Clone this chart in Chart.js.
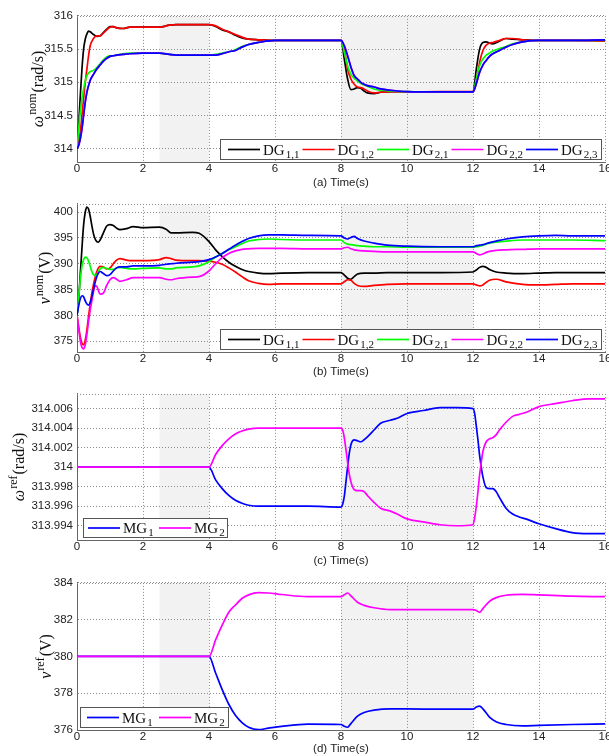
<!DOCTYPE html>
<html>
<head>
<meta charset="utf-8">
<script src="https://cdn.jsdelivr.net/npm/chart.js@4.4.0/dist/chart.umd.min.js"></script>
<style>
  html, body { margin: 0; padding: 0; background: #fff; overflow: hidden; }
  #page { position: relative; width: 609px; height: 756px; overflow: hidden; }
  #page canvas { position: absolute; left: 0; }
</style>
</head>
<body>
<div id="page">
  <canvas id="chartA"></canvas>
  <canvas id="chartB"></canvas>
  <canvas id="chartC"></canvas>
  <canvas id="chartD"></canvas>
</div>
<script>
// ---- DATA ----
const xTicks = [0, 2, 4, 6, 8, 10, 12, 14, 16];
const shadeBands = [[2.5, 4], [8, 12]];

// (a) nominal frequency
const timeA = [0, 0.05, 0.1, 0.15, 0.2, 0.25, 0.3, 0.35, 0.4, 0.5,
  0.6, 0.7, 0.8, 0.9, 1.0, 1.1, 1.2, 1.4, 1.6, 2.0,
  2.5, 2.8, 3.0, 3.5, 4.0, 4.2, 4.4, 4.6, 4.8, 5.0,
  5.2, 5.5, 6.0, 7.0, 8.0, 8.1, 8.2, 8.3, 8.4, 8.5,
  8.6, 8.7, 8.8, 9.0, 9.2, 9.5, 10, 11, 12.0, 12.1,
  12.2, 12.3, 12.4, 12.5, 12.6, 12.8, 13.0, 13.2, 13.5, 14,
  15, 16];
const wNomDG11 = [314.0, 314.35, 314.8, 315.2, 315.5, 315.65, 315.73, 315.77, 315.76, 315.72,
  315.69, 315.7, 315.75, 315.8, 315.84, 315.84, 315.82, 315.81, 315.83, 315.83,
  315.83, 315.86, 315.87, 315.87, 315.87, 315.84, 315.79, 315.76, 315.71, 315.67,
  315.65, 315.64, 315.63, 315.63, 315.63, 315.35, 315.05, 314.89, 314.9, 314.92,
  314.91, 314.87, 314.84, 314.83, 314.85, 314.86, 314.855, 314.855, 314.855, 315.2,
  315.5, 315.6, 315.61, 315.59, 315.58, 315.62, 315.66, 315.65, 315.64, 315.63,
  315.63, 315.63];
const wNomDG12 = [314.0, 314.1, 314.25, 314.5, 314.75, 315.0, 315.2, 315.4, 315.55, 315.66,
  315.7, 315.7, 315.74, 315.79, 315.83, 315.84, 315.82, 315.81, 315.83, 315.83,
  315.83, 315.86, 315.87, 315.87, 315.87, 315.85, 315.8, 315.76, 315.72, 315.68,
  315.65, 315.64, 315.63, 315.63, 315.63, 315.5, 315.2, 315.05, 314.97, 314.93,
  314.92, 314.9, 314.87, 314.84, 314.85, 314.86, 314.855, 314.86, 314.86, 315.0,
  315.3, 315.48, 315.56, 315.59, 315.6, 315.63, 315.66, 315.66, 315.64, 315.63,
  315.63, 315.62];
const wNomDG21 = [314.0, 314.3, 314.55, 314.75, 314.9, 315.02, 315.1, 315.14, 315.16, 315.18,
  315.22, 315.28, 315.34, 315.38, 315.4, 315.4, 315.41, 315.43, 315.44, 315.44,
  315.44, 315.42, 315.41, 315.41, 315.41, 315.42, 315.44, 315.46, 315.49, 315.54,
  315.57, 315.6, 315.63, 315.63, 315.63, 315.45, 315.25, 315.12, 315.06, 315.02,
  314.98, 314.96, 314.94, 314.9, 314.88, 314.87, 314.86, 314.855, 314.855, 315.05,
  315.25, 315.35, 315.41, 315.44, 315.47, 315.51, 315.54, 315.58, 315.61, 315.63,
  315.63, 315.63];
const wNomDG22 = [314.0, 314.05, 314.15, 314.3, 314.5, 314.7, 314.85, 314.95, 315.03, 315.12,
  315.2, 315.26, 315.32, 315.36, 315.39, 315.4, 315.41, 315.42, 315.43, 315.44,
  315.44, 315.42, 315.41, 315.41, 315.41, 315.41, 315.43, 315.46, 315.48, 315.53,
  315.57, 315.6, 315.63, 315.63, 315.63, 315.55, 315.4, 315.23, 315.1, 315.05,
  315.0, 314.97, 314.95, 314.93, 314.9, 314.88, 314.86, 314.855, 314.855, 314.98,
  315.15, 315.26, 315.33, 315.39, 315.43, 315.48, 315.53, 315.57, 315.61, 315.63,
  315.63, 315.64];
const wNomDG23 = [314.0, 314.05, 314.15, 314.3, 314.5, 314.7, 314.85, 314.95, 315.03, 315.12,
  315.2, 315.26, 315.32, 315.36, 315.39, 315.4, 315.41, 315.42, 315.43, 315.44,
  315.44, 315.42, 315.41, 315.41, 315.41, 315.41, 315.43, 315.46, 315.48, 315.53,
  315.57, 315.6, 315.63, 315.63, 315.63, 315.55, 315.4, 315.23, 315.1, 315.05,
  315.0, 314.97, 314.95, 314.93, 314.9, 314.88, 314.86, 314.855, 314.855, 314.98,
  315.15, 315.26, 315.33, 315.39, 315.43, 315.48, 315.53, 315.57, 315.61, 315.63,
  315.63, 315.64];
const yTicksA = [314, 314.5, 315, 315.5, 316];

// (b) nominal voltage
const timeB = [0, 0.05, 0.1, 0.15, 0.2, 0.25, 0.3, 0.35, 0.4, 0.45,
  0.5, 0.55, 0.6, 0.65, 0.7, 0.8, 0.9, 1.0, 1.1, 1.2,
  1.3, 1.5, 1.7, 2.0, 2.5, 2.7, 2.85, 3.0, 3.5, 3.7,
  4.0, 4.2, 4.4, 4.6, 4.8, 5.0, 5.2, 5.5, 5.8, 6.2,
  7, 8.0, 8.1, 8.2, 8.3, 8.4, 8.5, 8.7, 9.0, 9.4,
  10, 11, 12.0, 12.1, 12.2, 12.3, 12.4, 12.5, 12.7, 13.0,
  13.5, 14, 14.5, 15, 16];
const vNomDG11 = [380, 383, 388, 393, 397.5, 400, 401, 400.6, 399.2, 397.4,
  395.8, 394.8, 394.3, 394.2, 394.6, 396, 397.3, 397.6, 397.4, 396.9,
  396.6, 396.8, 397.2, 397.0, 397.1, 396.7, 396.0, 396.0, 396.1, 395.9,
  394.3, 392.7, 391.4, 390.3, 389.5, 388.9, 388.5, 388.2, 388.1, 388.2,
  388.3, 388.3, 387.8, 387.2, 387.0, 387.5, 388.0, 388.2, 388.2, 388.3,
  388.3, 388.3, 388.4, 388.8, 389.3, 389.5, 389.3, 388.9, 388.4, 388.2,
  388.1, 388.2, 388.3, 388.3, 388.3];
const vNomDG12 = [380, 377.8, 375.8, 374.6, 374.3, 375.2, 377.2, 379.8, 382.2, 384.3,
  386.0, 387.4, 388.5, 389.2, 389.5, 389.4, 389.0, 389.2, 390.0, 390.7,
  391.0, 390.7, 390.6, 390.6, 390.8, 391.2, 391.0, 390.7, 390.6, 390.6,
  390.5, 390.3, 389.9, 389.2, 388.4, 387.5, 386.7, 386.2, 386.0, 386.1,
  386.1, 386.1, 386.5, 386.9, 386.8, 386.2, 385.8, 385.6, 385.8, 386.0,
  386.1, 386.1, 386.1, 385.9, 385.7, 385.9, 386.4, 386.8, 387.0, 386.5,
  386.0, 385.9, 386.0, 386.1, 386.1];
const vNomDG21 = [380, 383.5, 387.0, 389.5, 390.8, 391.3, 391.2, 390.5, 389.5, 388.5,
  387.9, 387.7, 387.9, 388.5, 389.0, 389.3, 389.1, 388.9, 388.9, 389.2,
  389.3, 389.1, 389.0, 389.1, 389.2, 389.0, 389.0, 389.2, 389.4, 389.6,
  390.4, 391.3, 392.0, 392.7, 393.3, 393.9, 394.4, 394.7, 394.8, 394.7,
  394.6, 394.6, 394.1, 393.8, 393.7, 393.6, 393.5, 393.4, 393.3, 393.3,
  393.2, 393.2, 393.2, 393.3, 393.4, 393.6, 393.8, 394.0, 394.2, 394.4,
  394.6, 394.6, 394.6, 394.6, 394.5];
const vNomDG22 = [380, 377.5, 375.0, 373.8, 373.5, 374.3, 376.3, 378.8, 381.0, 382.8,
  384.6, 385.7, 385.6, 384.8, 384.1, 384.3, 385.8, 386.9, 387.3, 387.0,
  386.6, 386.9, 387.3, 387.3, 387.3, 387.0, 386.9, 387.1, 387.4, 387.5,
  388.6, 390.0, 391.2, 392.0, 392.5, 392.8, 392.9, 393.0, 393.0, 393.0,
  392.9, 392.9, 393.1, 393.2, 392.9, 392.7, 392.6, 392.5, 392.4, 392.3,
  392.3, 392.3, 392.3, 392.0, 391.7, 391.9, 392.2, 392.4, 392.6, 392.7,
  392.8, 392.9, 392.9, 392.9, 392.9];
const vNomDG23 = [380, 381.8, 383.2, 383.8, 383.6, 382.8, 382.2, 382.0, 382.5, 383.6,
  385.0, 386.4, 387.5, 388.2, 388.5, 388.1, 387.7, 387.9, 388.6, 389.2,
  389.4, 389.4, 389.6, 389.6, 389.7, 389.9, 390.0, 390.1, 390.3, 390.4,
  390.8, 391.3, 392.0, 392.8, 393.6, 394.3, 394.9, 395.4, 395.6, 395.6,
  395.5, 395.4, 395.0, 394.8, 395.1, 395.3, 394.9, 394.4, 394.0, 393.6,
  393.4, 393.3, 393.3, 393.5, 393.6, 393.7, 393.9, 394.1, 394.4, 394.8,
  395.2, 395.4, 395.5, 395.4, 395.4];
const yTicksB = [375, 380, 385, 390, 395, 400];

// (c) reference frequency
const timeC = [0, 4.0, 4.2, 4.4, 4.6, 4.8, 5.0, 5.2, 5.5, 6,
  7, 8.0, 8.05, 8.1, 8.15, 8.2, 8.25, 8.3, 8.4, 8.5,
  8.6, 8.7, 8.8, 9.0, 9.2, 9.5, 9.7, 10, 10.5, 11,
  11.5, 12.0, 12.05, 12.1, 12.15, 12.2, 12.25, 12.3, 12.4, 12.5,
  12.6, 12.7, 12.8, 13.0, 13.2, 13.4, 13.6, 14.0, 14.5, 15,
  15.5, 16];
const wRefMG1 = [314.0, 314.0, 313.9987, 313.9978, 313.9971, 313.9966, 313.9963, 313.9961, 313.996, 313.996,
  313.996, 313.9959, 313.9962, 313.997, 313.9985, 314.0, 314.0014, 314.0023, 314.0028, 314.0027,
  314.0026, 314.0028, 314.0031, 314.0038, 314.0045, 314.0048, 314.005, 314.0055, 314.0058, 314.0061,
  314.0061, 314.006, 314.0055, 314.0042, 314.0028, 314.0012, 314.0, 313.999, 313.9979, 313.9978,
  313.9978, 313.9975, 313.9969, 313.9958, 313.9952, 313.9949, 313.9947, 313.9942, 313.9937, 313.9933,
  313.9932, 313.9932];
const wRefMG2 = [314.0, 314.0, 314.0013, 314.0022, 314.0029, 314.0034, 314.0037, 314.0039, 314.004, 314.004,
  314.004, 314.004, 314.0038, 314.003, 314.0018, 314.0005, 313.9993, 313.9985, 313.9977, 313.9976,
  313.9976, 313.9975, 313.9971, 313.9964, 313.9958, 313.9955, 313.9952, 313.9947, 313.9944, 313.9941,
  313.994, 313.9941, 313.9948, 313.996, 313.9975, 313.9992, 314.0005, 314.0016, 314.0026, 314.0029,
  314.003, 314.0033, 314.0038, 314.0046, 314.0052, 314.0054, 314.0056, 314.0062, 314.0065, 314.0068,
  314.007, 314.007];
const yTicksC = [313.994, 313.996, 313.998, 314, 314.002, 314.004, 314.006];

// (d) reference voltage
const timeD = [0, 4.0, 4.2, 4.4, 4.6, 4.8, 5.0, 5.2, 5.5, 5.8,
  6.2, 7, 8.0, 8.1, 8.2, 8.3, 8.5, 8.7, 9.0, 9.5,
  10, 11, 12.0, 12.1, 12.2, 12.3, 12.5, 12.7, 13.0, 13.5,
  14, 15, 16];
const vRefMG1 = [380, 380, 379.1, 378.2, 377.4, 376.8, 376.4, 376.15, 376.02, 376.1,
  376.2, 376.32, 376.3, 376.2, 376.15, 376.35, 376.75, 376.95, 377.08, 377.15,
  377.15, 377.13, 377.13, 377.25, 377.3, 377.15, 376.7, 376.45, 376.3, 376.22,
  376.25, 376.3, 376.33];
const vRefMG2 = [380, 380, 380.9, 381.7, 382.4, 382.8, 383.15, 383.35, 383.47, 383.45,
  383.37, 383.25, 383.25, 383.35, 383.45, 383.3, 382.95, 382.78, 382.65, 382.55,
  382.55, 382.55, 382.55, 382.5, 382.4, 382.6, 383.0, 383.2, 383.33, 383.38,
  383.35, 383.28, 383.25];
const yTicksD = [376, 378, 380, 382, 384];

// ---- STYLE ----
const tickFont = { family: '"Liberation Sans", Arial, sans-serif', size: 11.5 };
const serif = '"Liberation Serif", "Times New Roman", serif';
const gridColor = '#8c8c8c';

// shaded time windows
const shadePlugin = {
    id: 'shadeBands',
    beforeDraw(chart) {
        const { ctx, chartArea: a, scales: { x } } = chart;
        ctx.save();
        ctx.fillStyle = '#f2f2f2';
        shadeBands.forEach(([s, e]) => {
            const x1 = x.getPixelForValue(s);
            const x2 = x.getPixelForValue(e);
            ctx.fillRect(x1, a.top, x2 - x1, a.bottom - a.top);
        });
        ctx.restore();
    },
    // dotted top edge of the axes box
    beforeDatasetsDraw(chart) {
        const { ctx, chartArea: a } = chart;
        ctx.save();
        ctx.strokeStyle = gridColor;
        ctx.lineWidth = 1;
        ctx.setLineDash([1, 2]);
        ctx.beginPath();
        ctx.moveTo(a.left, Math.round(a.top) + 0.5);
        ctx.lineTo(a.right, Math.round(a.top) + 0.5);
        ctx.stroke();
        ctx.restore();
    }
};

// rotated y title with a superscript
const yTitlePlugin = {
    id: 'yTitleSup',
    afterDraw(chart, args, opts) {
        const { ctx, chartArea: a } = chart;
        const big = '16px ' + serif, bigIt = 'italic 16px ' + serif, small = '12px ' + serif;
        ctx.save();
        ctx.translate(opts.x, (a.top + a.bottom) / 2);
        ctx.rotate(-Math.PI / 2);
        ctx.font = bigIt; const wb = ctx.measureText(opts.base).width;
        ctx.font = small; const ws = ctx.measureText(opts.sup).width;
        ctx.font = big; const wr = ctx.measureText(opts.rest).width;
        let u = -(wb + ws + wr + 2) / 2;
        ctx.fillStyle = '#111';
        ctx.font = bigIt; ctx.fillText(opts.base, u, 5); u += wb + 1;
        ctx.font = small; ctx.fillText(opts.sup, u, -2); u += ws + 1;
        ctx.font = big; ctx.fillText(opts.rest, u, 5);
        ctx.restore();
    }
};

// boxed legend with subscripted names
const legendPlugin = {
    id: 'subLegend',
    afterDraw(chart, args, opts) {
        const { ctx, chartArea: a } = chart;
        const left = opts.anchor === 'right' ? a.right - opts.dx - opts.width : a.left + opts.dx;
        const top = Math.round(a.bottom - opts.dy - opts.height);
        ctx.save();
        ctx.fillStyle = '#fff';
        ctx.fillRect(left, top, opts.width, opts.height);
        ctx.strokeStyle = '#555';
        ctx.lineWidth = 1;
        ctx.strokeRect(Math.round(left) + 0.5, top + 0.5, opts.width, opts.height);
        const cy = top + opts.height / 2 + 0.5;
        chart.data.datasets.forEach((ds, i) => {
            const lx = left + opts.padL + i * opts.step;
            ctx.strokeStyle = ds.borderColor;
            ctx.lineWidth = 1.7;
            ctx.beginPath();
            ctx.moveTo(lx, cy);
            ctx.lineTo(lx + 32, cy);
            ctx.stroke();
            const [main, sub] = ds.label.split('_');
            ctx.fillStyle = '#111';
            ctx.font = '15px ' + serif;
            ctx.fillText(main, lx + 35, cy + 5);
            const w = ctx.measureText(main).width;
            ctx.font = '11px ' + serif;
            ctx.fillText(sub, lx + 36 + w, cy + 8);
        });
        ctx.restore();
    }
};

const panels = [
    {
        id: 'chartA', areaTop: 15, areaBottom: 162, titleY: 183,
        times: timeA, yMin: 313.8, yMax: 316, yTicks: yTicksA,
        series: [
            { label: 'DG_1,1', color: '#000000', values: wNomDG11 },
            { label: 'DG_1,2', color: '#ff0000', values: wNomDG12 },
            { label: 'DG_2,1', color: '#00ff00', values: wNomDG21 },
            { label: 'DG_2,2', color: '#ff00ff', values: wNomDG22 },
            { label: 'DG_2,3', color: '#0000ff', values: wNomDG23 }
        ],
        yTitle: { base: 'ω', sup: 'nom', rest: '(rad/s)', x: 38 },
        xTitle: '(a) Time(s)',
        legend: { anchor: 'right', dx: 4, dy: 3, width: 381, height: 20, padL: 8, step: 74.5 }
    },
    {
        id: 'chartB', areaTop: 203, areaBottom: 352, titleY: 372,
        times: timeB, yMin: 372.9, yMax: 401.6, yTicks: yTicksB,
        series: [
            { label: 'DG_1,1', color: '#000000', values: vNomDG11 },
            { label: 'DG_1,2', color: '#ff0000', values: vNomDG12 },
            { label: 'DG_2,1', color: '#00ff00', values: vNomDG21 },
            { label: 'DG_2,2', color: '#ff00ff', values: vNomDG22 },
            { label: 'DG_2,3', color: '#0000ff', values: vNomDG23 }
        ],
        yTitle: { base: 'v', sup: 'nom', rest: '(V)', x: 45 },
        xTitle: '(b) Time(s)',
        legend: { anchor: 'right', dx: 4, dy: 3, width: 381, height: 20, padL: 8, step: 74.5 }
    },
    {
        id: 'chartC', areaTop: 393, areaBottom: 540, titleY: 561,
        times: timeC, yMin: 313.99254, yMax: 314.0075, yTicks: yTicksC,
        series: [
            { label: 'MG_1', color: '#0000ff', values: wRefMG1 },
            { label: 'MG_2', color: '#ff00ff', values: wRefMG2 }
        ],
        yTitle: { base: 'ω', sup: 'ref', rest: '(rad/s)', x: 19 },
        xTitle: '(c) Time(s)',
        legend: { anchor: 'left', dx: 6, dy: 3, width: 144, height: 19, padL: 5, step: 71 }
    },
    {
        id: 'chartD', areaTop: 582, areaBottom: 730, titleY: 749,
        times: timeD, yMin: 376, yMax: 384, yTicks: yTicksD,
        series: [
            { label: 'MG_1', color: '#0000ff', values: vRefMG1 },
            { label: 'MG_2', color: '#ff00ff', values: vRefMG2 }
        ],
        yTitle: { base: 'v', sup: 'ref', rest: '(V)', x: 46 },
        xTitle: '(d) Time(s)',
        legend: { anchor: 'left', dx: 3, dy: 3, width: 148, height: 20, padL: 7, step: 72 }
    }
];

function makeChart(p) {
    const canvas = document.getElementById(p.id);
    const canvasTop = p.areaTop - 10;
    const axisH = p.titleY - p.areaBottom + 7;
    canvas.width = 620;
    canvas.height = Math.round(p.areaBottom - canvasTop + axisH);
    canvas.style.top = canvasTop + 'px';

    const n = p.series.length;
    new Chart(canvas, {
        type: 'line',
        data: {
            datasets: p.series.map((s, i) => ({
                label: s.label,
                data: p.times.map((t, k) => ({ x: t, y: s.values[k] })),
                borderColor: s.color,
                backgroundColor: s.color,
                borderWidth: 1.7,
                pointRadius: 0,
                cubicInterpolationMode: 'monotone',
                order: n - 1 - i
            }))
        },
        options: {
            responsive: false,
            animation: false,
            devicePixelRatio: 1,
            layout: { padding: { left: 0, right: 15, top: 10, bottom: 0 } },
            plugins: {
                legend: { display: false },
                tooltip: { enabled: false },
                yTitleSup: p.yTitle,
                subLegend: p.legend
            },
            scales: {
                x: {
                    type: 'linear', min: 0, max: 16,
                    afterBuildTicks: s => { s.ticks = xTicks.map(v => ({ value: v })); },
                    afterFit: s => { s.height = axisH; },
                    ticks: { padding: 0, font: tickFont, color: '#222', maxRotation: 0 },
                    grid: { color: gridColor, drawTicks: false },
                    border: { color: '#666', dash: [1, 2] },
                    title: { display: true, text: p.xTitle, padding: 0, font: tickFont, color: '#222' }
                },
                y: {
                    type: 'linear', min: p.yMin, max: p.yMax,
                    afterBuildTicks: s => { s.ticks = p.yTicks.map(v => ({ value: v })); },
                    afterFit: s => { s.width = 77; },
                    ticks: {
                        padding: 4, font: tickFont, color: '#222',
                        callback: v => String(+Number(v).toFixed(4))
                    },
                    grid: { color: gridColor, drawTicks: false },
                    border: { color: '#666', dash: [1, 2] }
                }
            }
        },
        plugins: [shadePlugin, yTitlePlugin, legendPlugin]
    });
}

panels.forEach(makeChart);
</script>
</body>
</html>
